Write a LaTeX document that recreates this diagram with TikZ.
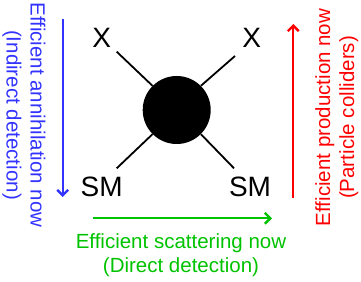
\documentclass[tikz,border=0pt]{standalone}
\usepackage{fontspec}
\setmainfont{Liberation Sans}
\usetikzlibrary{arrows.meta}
\definecolor{cblue}{RGB}{51,51,255}
\definecolor{cgreen}{RGB}{0,195,0}
\definecolor{cred}{RGB}{255,0,0}
\begin{document}
\begin{tikzpicture}[x=1pt,y=1pt,
  lbl/.style={font=\fontsize{28}{30}\selectfont, inner sep=0pt},
  captxt/.style={font=\fontsize{20.5}{24}\selectfont, align=center, inner sep=0pt},
  leg/.style={line width=1.8pt},
  arr/.style={line width=2.2pt, -{Straight Barb[length=5.5pt,width=11pt,line width=2.4pt]}}]
\useasboundingbox (0,0) rectangle (361,281);
\node[circle, fill=black, minimum size=68pt, inner sep=0pt] (c) at (176.7,171) {};
\coordinate (ul) at (116.7,229.3);
\coordinate (ur) at (235,225);
\coordinate (ll) at (116.7,112.7);
\coordinate (lr) at (234,112.7);
\draw[leg] (c.135) -- (ul);
\draw[leg] (c.45) -- (ur);
\draw[leg] (c.225) -- (ll);
\draw[leg] (c.-45) -- (lr);
\node[lbl] (xl) at (101.7,242.7) {X};
\node[lbl] (xr) at (251.7,243.5) {X};
\node[lbl] (sml) at (101.7,94.3) {SM};
\node[lbl] (smr) at (250,94.3) {SM};
% arrows
\coordinate (b1) at (62.7,262);
\coordinate (b2) at (62.7,84);
\draw[arr, cblue] (b1) -- (b2);
\coordinate (r1) at (293.3,83);
\coordinate (r2) at (293.3,257);
\draw[arr, cred] (r1) -- (r2);
\coordinate (g1) at (93,62.7);
\coordinate (g2) at (272,62.7);
\draw[arr, cgreen] (g1) -- (g2);
% captions
\node[captxt, text=cblue, rotate=-90] (tb) at (24,166) {Efficient annihilation now\\(Indirect detection)};
\node[captxt, text=cred, rotate=90] (tr) at (336.7,163.5) {Efficient production now\\(Particle colliders)};
\node[captxt, text=cgreen] (tg) at (181,26) {Efficient scattering now\\(Direct detection)};
\end{tikzpicture}
\end{document}
